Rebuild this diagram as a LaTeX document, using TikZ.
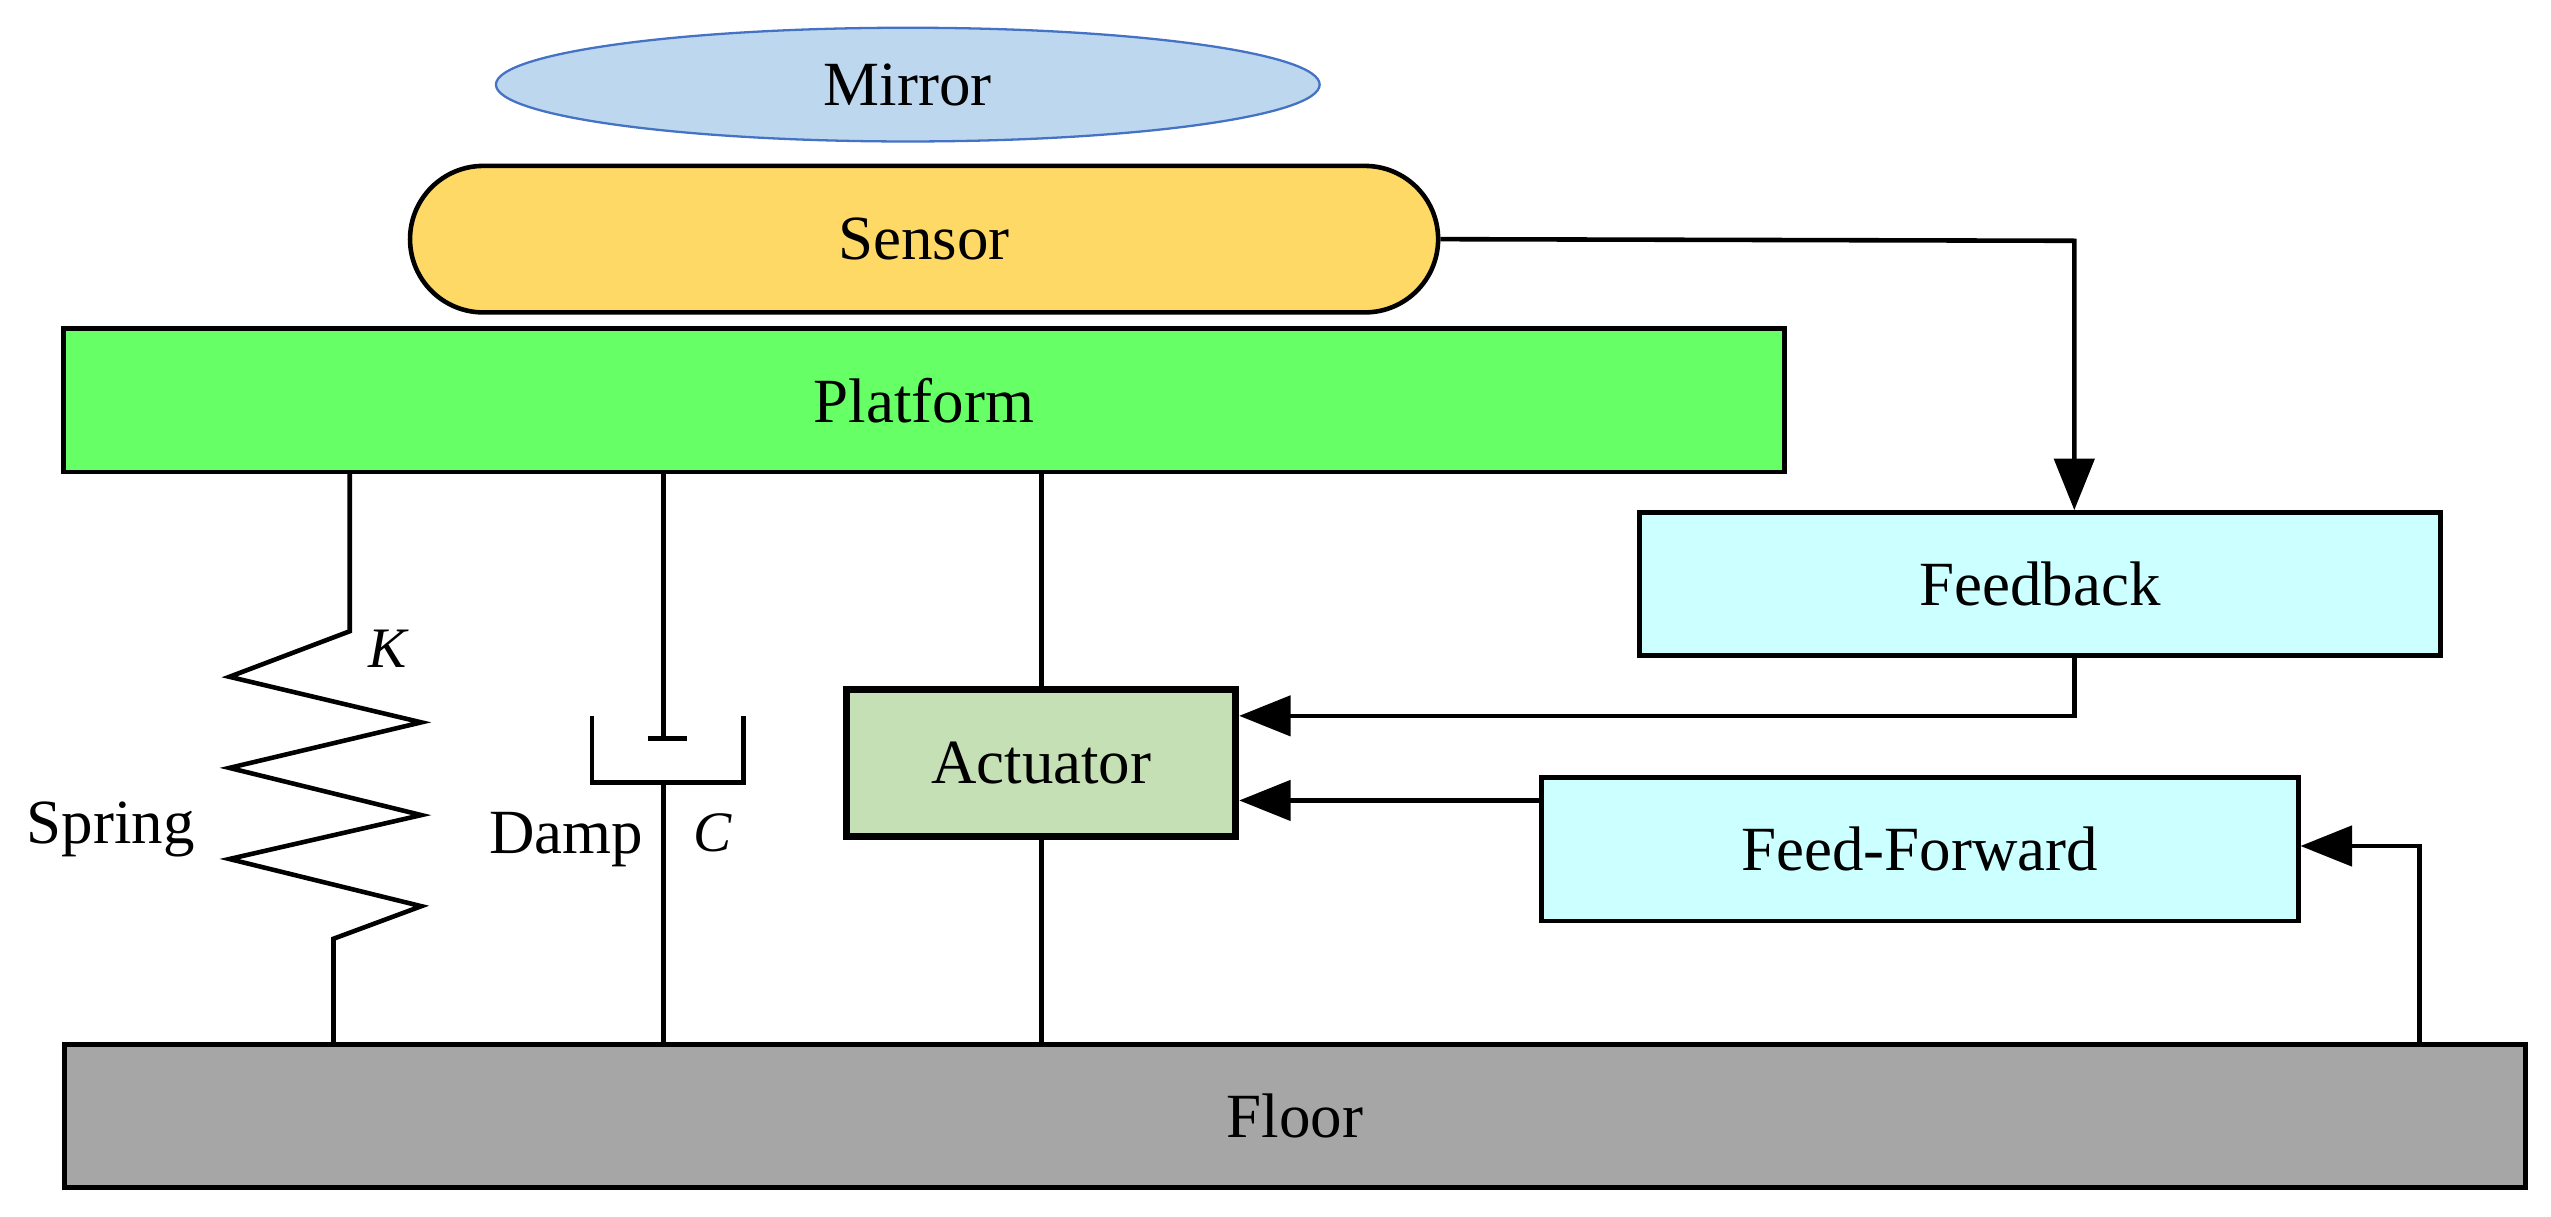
\documentclass[tikz,border=0pt]{standalone}
\usepackage{fontspec}
\setmainfont{Liberation Serif}
\usetikzlibrary{arrows.meta,shapes.geometric,shapes.misc}
\definecolor{mirrorc}{RGB}{189,215,238}
\definecolor{mirrorb}{RGB}{68,114,196}
\definecolor{sensorc}{RGB}{255,217,102}
\definecolor{platc}{RGB}{102,255,102}
\definecolor{ctrlc}{RGB}{204,255,255}
\definecolor{actc}{RGB}{197,224,180}
\definecolor{floorc}{RGB}{166,166,166}
\tikzstyle{block}=[draw,thick,minimum height=0.88cm,font=\fontsize{11}{13}\selectfont]
\tikzstyle{ctrl}=[block,fill=ctrlc]
\tikzstyle{sig}=[thick,-{Triangle[length=9pt,width=7pt]}]
\tikzstyle{mech}=[thick]

\begin{document}
\begin{tikzpicture}[x=0.01cm,y=-0.01cm]
\useasboundingbox (0,0) rectangle (1568,748);
\node[block,ellipse,draw=mirrorb,thin,fill=mirrorc,minimum width=5.06cm,minimum height=0.64cm] (mirror) at (558,52) {Mirror};
\node[block,rounded rectangle,fill=sensorc,minimum width=6.55cm,minimum height=0.9cm] (sensor) at (568,147) {Sensor};
\node[block,fill=platc,minimum width=10.57cm] (platform) at (568,246) {Platform};
\node[ctrl,minimum width=4.92cm] (feedback) at (1254,359) {Feedback};
\node[ctrl,minimum width=4.65cm] (feedfwd) at (1180,522) {Feed-Forward};
\node[block,fill=actc,very thick,minimum width=2.39cm,minimum height=0.9cm] (actuator) at (640,469) {Actuator};
\node[block,fill=floorc,minimum width=15.12cm] (floor) at (796,686) {Floor};

% spring
\draw[mech] (215,290) -- (215,388) -- (141,416) -- (259,444) -- (141,472) -- (259,501)
  -- (141,528) -- (259,557) -- (205,577) -- (205,642);
\node at (238,399) {\fontsize{10}{12}\selectfont\itshape K};
\node at (68,510) {\fontsize{11}{13}\selectfont Spring};
% damper
\draw[mech] (408,290) -- (408,454) (398,454) -- (422,454);
\draw[mech] (364,440) -- (364,481) -- (457,481) -- (457,440);
\draw[mech] (408,481) -- (408,642);
\node at (348,516) {\fontsize{11}{13}\selectfont Damp};
\node at (438,512) {\fontsize{10}{12}\selectfont\itshape C};
% actuator legs
\draw[mech] (actuator.north) -- (actuator.north |- platform.south);
\draw[mech] (actuator.south) -- (actuator.south |- floor.north);

% signals
\coordinate (s1) at (1275,148);
\draw[sig] (sensor.east) -- (s1) -- (feedback.north -| s1);
\coordinate (f1) at (1275,440);
\draw[sig] (feedback.south -| f1) -- (f1) -- (actuator.east |- f1);
\coordinate (f2) at (948,492);
\draw[sig] (f2) -- (actuator.east |- f2);
\coordinate (g1) at (1487,520);
\draw[sig] (floor.north -| g1) -- (g1) -- (feedfwd.east |- g1);
\end{tikzpicture}
\end{document}
